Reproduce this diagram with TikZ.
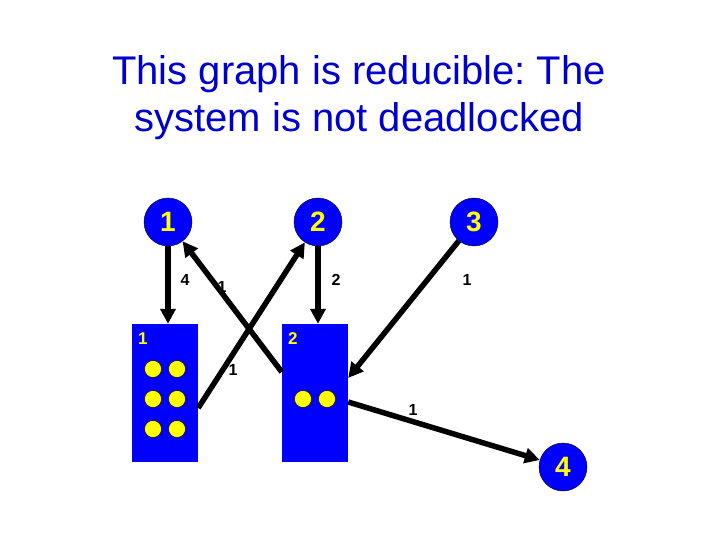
\documentclass[tikz,border=0pt]{standalone}
\usepackage{fontspec}
\setmainfont{Liberation Sans}
\usetikzlibrary{arrows.meta, positioning, calc}
\definecolor{titleblue}{HTML}{0000CC}
\definecolor{procblue}{HTML}{0000FF}
\definecolor{tokyellow}{HTML}{FFFF00}
\frenchspacing
\tikzset{
  proc/.style={
    circle, draw=black, thin, fill=procblue, minimum size=48pt,
    inner sep=0pt, text=tokyellow,
    font=\fontsize{28}{30}\selectfont\bfseries
  },
  res/.style={
    rectangle, fill=procblue, minimum width=66pt, minimum height=138pt,
    inner sep=0pt
  },
  link/.style={line width=5.5pt, -{Triangle[length=15pt, width=15pt]}},
  wlbl/.style={font=\fontsize{16}{18}\selectfont\bfseries},
  rlbl/.style={text=tokyellow, font=\fontsize{17}{19}\selectfont\bfseries},
  titletxt/.style={
    align=center, text=titleblue,
    font=\fontsize{40}{47}\selectfont
  }
}
\begin{document}
\begin{tikzpicture}[x=1pt, y=-1pt]
  \useasboundingbox (0,0) rectangle (720,540);
  \node[titletxt] (title) at (359,98)
    {This graph is reducible: The\\system is not deadlocked};
  % Processes
  \node[proc] (p1) at (168,222) {1};
  \node[proc] (p2) at (318,222) {2};
  \node[proc] (p3) at (474,222) {3};
  \node[proc] (p4) at (563,467) {4};
  % Resources
  \node[res] (r1) at (165,393) {};
  \node[res] (r2) at (315,393) {};
  \node[rlbl] (r1lbl) at ($(r1.north west)+(11,15)$) {1};
  \node[rlbl] (r2lbl) at ($(r2.north west)+(11,15)$) {2};
  % Units
  \foreach \dx in {-12,12}{%
    \foreach \dy in {-24,6,36}{%
      \filldraw[fill=tokyellow, draw=black, thin]
        ($(r1)+(\dx,\dy)$) circle (8.5pt);}
    \filldraw[fill=tokyellow, draw=black, thin]
      ($(r2)+(\dx,6)$) circle (8.5pt);}
  % Requests
  \draw[link] (p1) -- (p1 |- r1.north);
  \draw[link] (p2) -- (p2 |- r2.north);
  \draw[link] (p3) -- ($(r2.east)+(0,-15)$);
  % Assignments
  \draw[link] ($(r1.east)+(0,15)$) -- (p2);
  \draw[link] ($(r2.west)+(0,-21)$) -- (p1);
  \draw[link] ($(r2.east)+(0,9)$) -- (p4);
  % Weights
  \node[wlbl] (w1) at (185,280) {4};
  \node[wlbl] (w2) at (222,287) {1};
  \node[wlbl] (w3) at (336,280) {2};
  \node[wlbl] (w4) at (467,280) {1};
  \node[wlbl] (w5) at (233,370) {1};
  \node[wlbl] (w6) at (413,410) {1};
\end{tikzpicture}
\end{document}
